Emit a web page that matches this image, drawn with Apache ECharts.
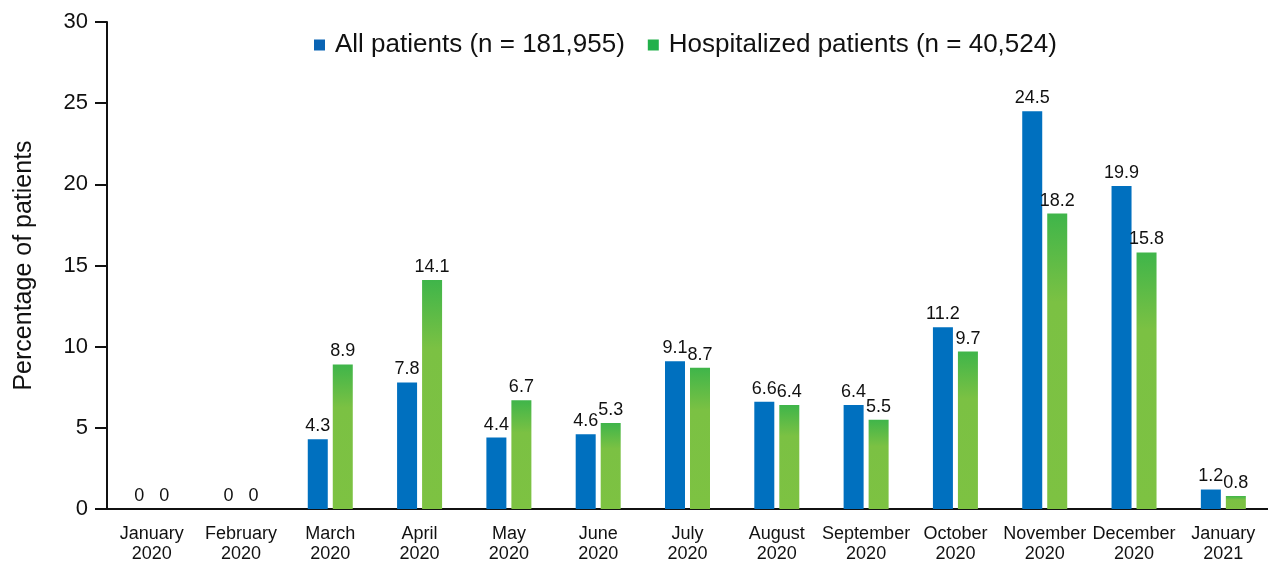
<!DOCTYPE html>
<html>
<head>
<meta charset="utf-8">
<script src="https://cdn.jsdelivr.net/npm/echarts@6/dist/echarts.min.js"></script>
<style>
html,body{margin:0;padding:0;background:#fff;}
#chart{width:1268px;height:564px;}
</style>
</head>
<body>
<div id="chart"></div>
<script>
const categories = ['January\n2020','February\n2020','March\n2020','April\n2020','May\n2020','June\n2020','July\n2020','August\n2020','September\n2020','October\n2020','November\n2020','December\n2020','January\n2021'];
const allPatients = [0, 0, 4.3, 7.8, 4.4, 4.6, 9.1, 6.6, 6.4, 11.2, 24.5, 19.9, 1.2];
const hospitalized = [0, 0, 8.9, 14.1, 6.7, 5.3, 8.7, 6.4, 5.5, 9.7, 18.2, 15.8, 0.8];
const seriesNames = ['All patients (n = 181,955)', 'Hospitalized patients (n = 40,524)'];
const yTicks = [0, 5, 10, 15, 20, 25, 30];

const font = 'Liberation Sans, Arial, Helvetica, sans-serif';
const chart = echarts.init(document.getElementById('chart'));
const greenGrad = new echarts.graphic.LinearGradient(0, 0, 0, 1, [
  {offset: 0, color: '#3fb54a'},
  {offset: 0.3, color: '#7bc143'},
  {offset: 1, color: '#7dc242'}
]);
chart.setOption({
  animation: false,
  backgroundColor: '#fff',
  textStyle: {fontFamily: font},
  legend: {
    top: 27,
    left: 309,
    itemWidth: 11,
    itemHeight: 11,
    itemGap: 23,
    icon: 'rect',
    textStyle: {fontSize: 26, color: '#111', fontFamily: font, padding: [0, 0, 0, 5]},
    data: [
      {name: seriesNames[0], itemStyle: {color: '#0a64b4'}},
      {name: seriesNames[1], itemStyle: {color: '#22b04b'}}
    ]
  },
  grid: {left: 107, top: 22, width: 1169, height: 493, containLabel: false},
  xAxis: {
    type: 'category',
    data: categories,
    axisLine: {lineStyle: {color: '#111', width: 2}},
    axisTick: {show: false},
    axisLabel: {fontSize: 18, color: '#111', lineHeight: 20, margin: 15, fontFamily: font, interval: 0}
  },
  yAxis: {
    type: 'value',
    min: yTicks[0],
    max: yTicks[yTicks.length - 1],
    interval: 5,
    name: 'Percentage of patients',
    nameLocation: 'middle',
    nameGap: 70,
    nameTextStyle: {fontSize: 25, color: '#111', fontFamily: font},
    splitLine: {show: false},
    axisLine: {show: true, lineStyle: {color: '#111', width: 2}},
    axisTick: {show: true, length: 12, lineStyle: {color: '#111', width: 2}},
    axisLabel: {fontSize: 22, color: '#111', margin: 19, fontFamily: font}
  },
  series: [
    {
      name: seriesNames[0],
      type: 'bar',
      data: allPatients,
      barWidth: 20,
      barGap: '25%',
      itemStyle: {color: '#0070bf'},
      label: {show: true, position: 'top', distance: 4, fontSize: 18, color: '#111', fontFamily: font}
    },
    {
      name: seriesNames[1],
      type: 'bar',
      data: hospitalized,
      barWidth: 20,
      barGap: '25%',
      itemStyle: {color: greenGrad},
      label: {show: true, position: 'top', distance: 4, fontSize: 18, color: '#111', fontFamily: font}
    }
  ]
});
</script>
</body>
</html>
